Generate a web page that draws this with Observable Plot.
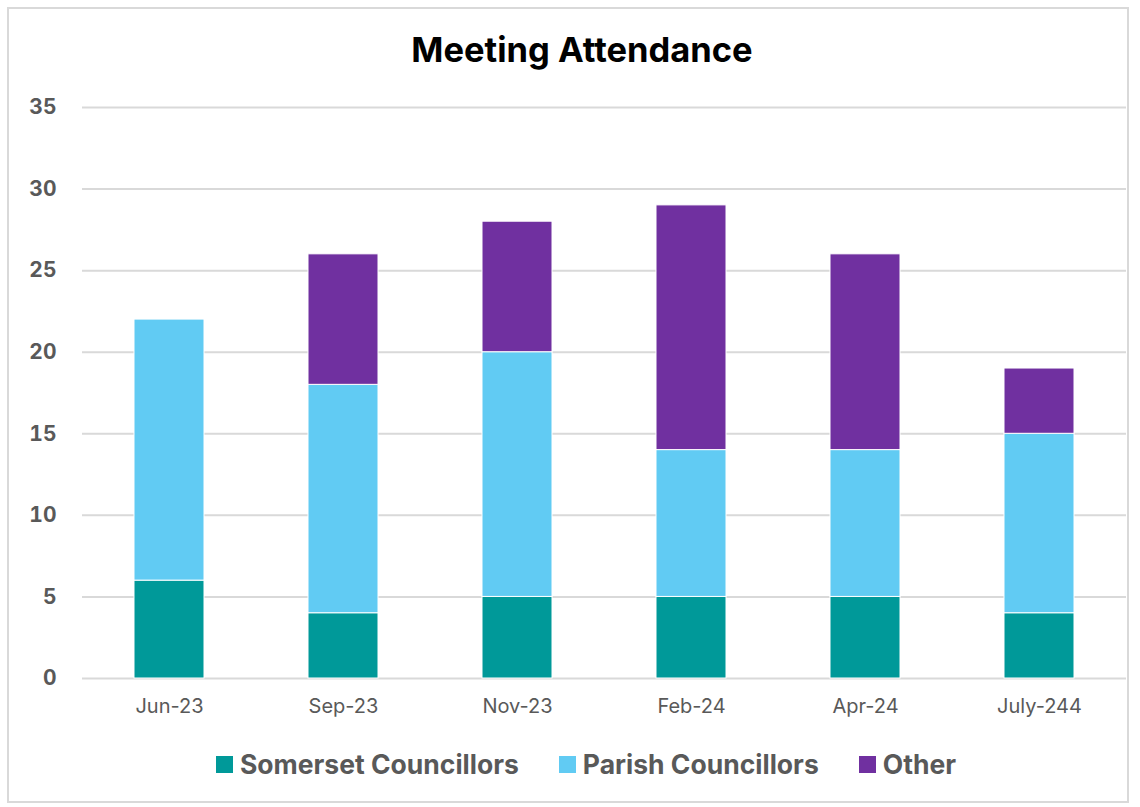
<!DOCTYPE html>
<html>
<head>
<meta charset="utf-8">
<script src="https://cdn.jsdelivr.net/npm/d3@7"></script>
<script src="https://cdn.jsdelivr.net/npm/@observablehq/plot@0.6"></script>
<style>
  html, body { margin: 0; padding: 0; background: #fff; }
  body { width: 1140px; height: 807px; position: relative; font-family: Inter, "Open Sans", sans-serif; overflow: hidden; }
  #frame { position: absolute; left: 7px; top: 7px; width: 1122px; height: 796px; border: 2px solid #d9d9d9; box-sizing: border-box; }
  #title { position: absolute; left: 0; width: 1164px; top: 30px; text-align: center; font-size: 34.5px; font-weight: 700; color: #000; line-height: 40px; }
  #chart { position: absolute; left: 0; top: 80px; }
  #legend { position: absolute; left: 0; width: 1172px; top: 747px; display: flex; justify-content: center; gap: 40px; font-size: 26.5px; font-weight: 700; color: #595959; line-height: 34px; }
  .item { display: flex; align-items: center; gap: 7px; }
  .sw { width: 17px; height: 17px; display: inline-block; }
</style>
</head>
<body>
<div id="frame"></div>
<div id="title">Meeting Attendance</div>
<div id="chart"></div>
<div id="legend"></div>
<script>
const categories = ["Jun-23", "Sep-23", "Nov-23", "Feb-24", "Apr-24", "July-244"];
const seriesNames = ["Somerset Councillors", "Parish Councillors", "Other"];
const somerset = [6, 4, 5, 5, 5, 4];
const parish = [16, 14, 15, 9, 9, 11];
const other = [0, 8, 8, 15, 12, 4];
const yTicks = [0, 5, 10, 15, 20, 25, 30, 35];
const colors = ["#009999", "#61CBF3", "#7030A0"];

const seriesValues = [somerset, parish, other];
const rows = [];
seriesNames.forEach((s, si) => {
  categories.forEach((c, ci) => rows.push({category: c, series: s, value: seriesValues[si][ci]}));
});

const chart = Plot.plot({
  width: 1140,
  height: 660,
  marginLeft: 82,
  marginRight: 14,
  marginTop: 27,
  marginBottom: 62,
  style: {fontFamily: "Inter, 'Open Sans', sans-serif", background: "transparent"},
  x: {domain: categories, paddingInner: 0.6, paddingOuter: 0.3, align: 0.5, label: null},
  y: {domain: [0, 35], ticks: yTicks, label: null},
  color: {domain: seriesNames, range: colors},
  marks: [
    Plot.gridY(yTicks, {stroke: "#d9d9d9", strokeOpacity: 1, strokeWidth: 2}),
    Plot.barY(rows, Plot.stackY({x: "category", y: "value", fill: "series", stroke: "#ffffff", strokeWidth: 1, order: seriesNames})),
    Plot.axisY(yTicks, {tickSize: 0, tickPadding: 26, fontSize: 21, fontWeight: 700, fill: "#595959", label: null}),
    Plot.axisX({tickSize: 0, tickPadding: 20, fontSize: 20, fill: "#595959", label: null})
  ]
});
document.getElementById("chart").appendChild(chart);

const legend = document.getElementById("legend");
seriesNames.forEach((s, i) => {
  const item = document.createElement("div");
  item.className = "item";
  const sw = document.createElement("span");
  sw.className = "sw";
  sw.style.background = colors[i];
  const t = document.createElement("span");
  t.textContent = s;
  item.appendChild(sw);
  item.appendChild(t);
  legend.appendChild(item);
});
</script>
</body>
</html>
